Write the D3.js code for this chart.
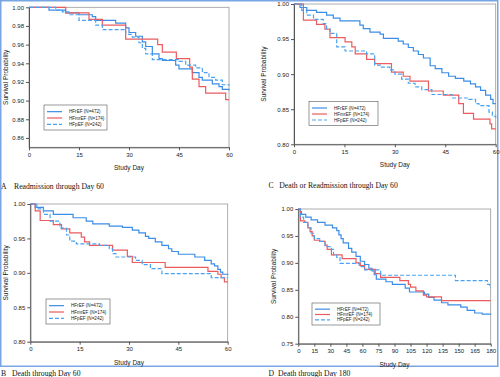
<!DOCTYPE html>
<html>
<head>
<meta charset="utf-8">
<script src="https://cdn.jsdelivr.net/npm/d3@7"></script>
<style>
body { margin: 0; background: #fff; }
svg { display: block; font-family: "Liberation Sans", Arial, sans-serif; }
.axis path, .axis line { stroke: #555; }
.axis text { fill: #222; font-size: 6px; }
.caption { font-family: "Liberation Serif", "Times New Roman", serif; font-size: 7.7px; fill: #111; }
</style>
</head>
<body>
<svg id="chart" width="500" height="377"></svg>
<script>
// Series names and styles
const seriesNames = ["HFrEF (N=472)", "HFmrEF (N=174)", "HFpEF (N=242)"];
const seriesColors = ["#3b8de6", "#ec5b5e", "#4aa3f2"];
const seriesDash = [null, null, "4,2"];

// Tick values
const ticks60 = [0, 15, 30, 45, 60];
const ticks180 = [0, 15, 30, 45, 60, 75, 90, 105, 120, 135, 150, 165, 180];
const yTicksA = [0.86, 0.88, 0.90, 0.92, 0.94, 0.96, 0.98, 1.00];
const yTicks80 = [0.80, 0.85, 0.90, 0.95, 1.00];
const yTicks75 = [0.75, 0.80, 0.85, 0.90, 0.95, 1.00];

// Panel A: readmission through day 60  [day, survival]
const readmitHFrEF = [[0,1],[6,0.997],[11,0.994],[15,0.992],[19,0.990],[20,0.986],[26,0.983],[29,0.978],[30,0.973],[32,0.969],[34,0.963],[35,0.958],[37,0.950],[39,0.945],[40,0.943],[44,0.938],[45,0.934],[49,0.930],[51,0.925],[52,0.922],[55,0.918],[57,0.915],[58,0.912],[60,0.911]];
const readmitHFmrEF = [[0,1],[11,0.994],[18,0.987],[22,0.981],[29,0.966],[38.6,0.960],[40,0.952],[44.2,0.945],[48.2,0.936],[49,0.923],[51,0.915],[53,0.908],[59,0.901],[60,0.901]];
const readmitHFpEF = [[0,1],[8,0.997],[10,0.995],[12,0.992],[15,0.986],[20,0.981],[22,0.976],[29,0.971],[31,0.968],[33,0.962],[34,0.956],[35,0.950],[37,0.944],[45,0.942],[47,0.938],[50,0.935],[52,0.930],[54,0.925],[56,0.922],[58,0.917],[60,0.916]];

// Panel C: death or readmission through day 60
const dorHFrEF = [[0,1],[1.8,0.995],[3.8,0.991],[6.7,0.988],[9.7,0.984],[11.7,0.980],[13.7,0.976],[19.6,0.970],[20.6,0.965],[22.6,0.960],[25.6,0.957],[26.6,0.951],[31,0.947],[32.5,0.943],[34,0.938],[35.5,0.933],[37,0.928],[38.5,0.923],[40.5,0.912],[42,0.908],[44,0.902],[46,0.897],[48,0.894],[50.5,0.890],[52.5,0.886],[54,0.882],[55.5,0.877],[57,0.870],[58.5,0.864],[59.2,0.858],[60,0.858]];
const dorHFmrEF = [[0,1],[2.8,0.977],[6.7,0.971],[9.2,0.964],[10.7,0.952],[15.2,0.946],[17.2,0.939],[18.2,0.929],[21.6,0.921],[24,0.915],[29,0.903],[32.5,0.897],[34.5,0.890],[40,0.876],[44.4,0.870],[49,0.858],[50.4,0.844],[53.4,0.836],[58.3,0.829],[58.8,0.822],[60,0.822]];
const dorHFpEF = [[0,1],[2.3,0.991],[3.8,0.984],[5.8,0.978],[8.7,0.972],[9.7,0.965],[10.7,0.958],[12.7,0.939],[15.2,0.933],[21.6,0.929],[24,0.913],[25.6,0.910],[28.5,0.906],[30,0.900],[32,0.893],[34,0.887],[36,0.882],[38,0.878],[41,0.871],[47,0.866],[52,0.864],[54,0.858],[55,0.855],[58,0.846],[59,0.840],[60,0.838]];

// Panel B: death through day 60
const death60HFrEF = [[0,1],[1.5,0.995],[4,0.990],[7,0.985],[13,0.980],[17,0.975],[19,0.971],[24,0.968],[28,0.966],[31,0.962],[33,0.958],[35,0.953],[36,0.950],[38,0.945],[40,0.940],[42,0.935],[43,0.931],[45,0.927],[50,0.923],[53,0.918],[55,0.913],[56,0.910],[57,0.905],[57.8,0.901],[58.5,0.898],[60,0.897]];
const death60HFmrEF = [[0,1],[1.5,0.990],[3,0.976],[7,0.970],[9.5,0.964],[12,0.958],[15.5,0.952],[16.5,0.945],[18,0.940],[25,0.933],[29.5,0.924],[31,0.915],[41,0.908],[54,0.902],[57,0.898],[58,0.893],[59,0.887],[60,0.887]];
const death60HFpEF = [[0,1],[2,0.993],[4,0.985],[6,0.975],[9,0.965],[11,0.955],[12,0.946],[14,0.942],[21,0.940],[24,0.935],[25,0.928],[26,0.923],[32,0.918],[34,0.912],[36.5,0.906],[40,0.899],[55,0.893],[60,0.893]];

// Panel D: death through day 180
const death180HFrEF = [[0,1],[2,0.995],[3,0.990],[7,0.985],[12,0.980],[18,0.975],[25,0.970],[32,0.965],[36,0.960],[38,0.952],[40,0.945],[42,0.937],[47,0.927],[50,0.920],[54,0.912],[58,0.903],[62,0.897],[66,0.890],[69,0.885],[71,0.878],[73,0.870],[82,0.865],[88,0.860],[100,0.853],[104,0.846],[118,0.842],[122,0.836],[127,0.831],[134,0.826],[140,0.822],[152,0.818],[158,0.812],[165,0.807],[172,0.805],[180,0.804]];
const death180HFmrEF = [[0,1],[2,0.978],[6,0.975],[9,0.965],[11,0.958],[13,0.950],[15,0.942],[20,0.940],[25,0.933],[27,0.925],[31,0.915],[41,0.908],[54,0.900],[58,0.895],[62,0.888],[72,0.880],[77,0.873],[95,0.867],[103,0.860],[105,0.855],[110,0.848],[117,0.840],[120,0.837],[134,0.830],[180,0.830]];
const death180HFpEF = [[0,1],[2,0.985],[5,0.975],[9,0.965],[12,0.955],[15,0.945],[20,0.940],[25,0.930],[31,0.925],[33,0.915],[36,0.910],[39,0.899],[57,0.893],[62,0.887],[77,0.877],[147,0.867],[177,0.860],[179,0.855],[180,0.855]];

// Captions
const captionLetters = ["A", "C", "B", "D"];
const captionTexts = ["Readmission through Day 60", "Death or Readmission through Day 60", "Death through Day 60", "Death through Day 180"];

const svg = d3.select('#chart');

// outer light blue frame
svg.append('rect')
    .attr('x', 0.75).attr('y', 0.75)
    .attr('width', 497).attr('height', 365.5)
    .attr('fill', 'none')
    .attr('stroke', '#79a6e2')
    .attr('stroke-width', 1.5);

const panels = [
    { left: 29, right: 229, top: 7.3, bottom: 147.3, xDomain: [0, 60], yDomain: [0.85, 1.0],
      xTicks: ticks60, yTicks: yTicksA, series: [readmitHFrEF, readmitHFmrEF, readmitHFpEF],
      legend: { x: 44, y: 105, w: 63, h: 25 }, ylabOff: 21, capLetterX: 1, capTextX: 14, capY: 189 },
    { left: 294, right: 495.7, top: 4, bottom: 144.3, xDomain: [0, 60], yDomain: [0.80, 1.0],
      xTicks: ticks60, yTicks: yTicks80, series: [dorHFrEF, dorHFmrEF, dorHFpEF],
      legend: { x: 309, y: 101.5, w: 69, h: 24 }, ylabOff: 28.5, capLetterX: 268.5, capTextX: 279.3, capY: 188 },
    { left: 30.3, right: 227.7, top: 204, bottom: 341.7, xDomain: [0, 60], yDomain: [0.80, 1.0],
      xTicks: ticks60, yTicks: yTicks80, series: [death60HFrEF, death60HFmrEF, death60HFpEF],
      legend: { x: 46, y: 299, w: 64, h: 25 }, ylabOff: 22, capLetterX: 1, capTextX: 12, capY: 375.5 },
    { left: 298.3, right: 490.7, top: 209, bottom: 343.7, xDomain: [0, 180], yDomain: [0.75, 1.0],
      xTicks: ticks180, yTicks: yTicks75, series: [death180HFrEF, death180HFmrEF, death180HFpEF],
      legend: { x: 312, y: 303, w: 68, h: 22 }, ylabOff: 22.3, capLetterX: 268.5, capTextX: 278, capY: 375.5 }
];

panels.forEach((p, i) => drawPanel(p, i));

function drawPanel(p, idx) {
    const x = d3.scaleLinear().domain(p.xDomain).range([p.left, p.right]);
    const y = d3.scaleLinear().domain(p.yDomain).range([p.bottom, p.top]);
    const g = svg.append('g');

    // plot area border
    g.append('rect')
        .attr('x', p.left).attr('y', p.top)
        .attr('width', p.right - p.left).attr('height', p.bottom - p.top)
        .attr('fill', 'none')
        .attr('stroke', '#9a9a9a')
        .attr('stroke-width', 0.8);

    // survival curves
    const line = d3.line()
        .curve(d3.curveStepAfter)
        .x(d => x(d[0]))
        .y(d => y(d[1]));

    p.series.forEach((s, i) => {
        g.append('path')
            .datum(s)
            .attr('d', line)
            .attr('fill', 'none')
            .attr('stroke', seriesColors[i])
            .attr('stroke-width', 1.2)
            .attr('stroke-dasharray', seriesDash[i]);
    });

    // axes
    g.append('g')
        .attr('class', 'axis')
        .attr('transform', `translate(0,${p.bottom})`)
        .call(d3.axisBottom(x).tickValues(p.xTicks).tickSize(3).tickPadding(2).tickSizeOuter(0));

    g.append('g')
        .attr('class', 'axis')
        .attr('transform', `translate(${p.left},0)`)
        .call(d3.axisLeft(y).tickValues(p.yTicks).tickFormat(d3.format('.2f')).tickSize(3).tickPadding(2).tickSizeOuter(0));

    // axis titles
    g.append('text')
        .attr('transform', `translate(${p.left - p.ylabOff},${(p.top + p.bottom) / 2}) rotate(-90)`)
        .attr('text-anchor', 'middle')
        .attr('font-size', 6.5)
        .attr('fill', '#222')
        .text('Survival Probability');

    g.append('text')
        .attr('x', (p.left + p.right) / 2)
        .attr('y', p.bottom + 23)
        .attr('text-anchor', 'middle')
        .attr('font-size', 6.5)
        .attr('fill', '#222')
        .text('Study Day');

    // legend
    const lg = g.append('g').attr('transform', `translate(${p.legend.x},${p.legend.y})`);
    lg.append('rect')
        .attr('width', p.legend.w).attr('height', p.legend.h)
        .attr('fill', '#fff')
        .attr('stroke', '#555')
        .attr('stroke-width', 0.6);
    const rowGap = (p.legend.h - 6) / 3;
    seriesNames.forEach((name, i) => {
        const ry = 4.5 + rowGap * i + rowGap / 2 - 1;
        lg.append('line')
            .attr('x1', 3).attr('x2', 18)
            .attr('y1', ry).attr('y2', ry)
            .attr('stroke', seriesColors[i])
            .attr('stroke-width', 1.2)
            .attr('stroke-dasharray', seriesDash[i]);
        lg.append('text')
            .attr('x', 25).attr('y', ry + 1.6)
            .attr('font-size', 4.6)
            .attr('fill', '#222')
            .text(name);
    });

    // caption below the panel
    svg.append('text')
        .attr('class', 'caption')
        .attr('x', p.capLetterX).attr('y', p.capY)
        .text(captionLetters[idx]);
    svg.append('text')
        .attr('class', 'caption')
        .attr('x', p.capTextX).attr('y', p.capY)
        .text(captionTexts[idx]);
}
</script>
</body>
</html>
